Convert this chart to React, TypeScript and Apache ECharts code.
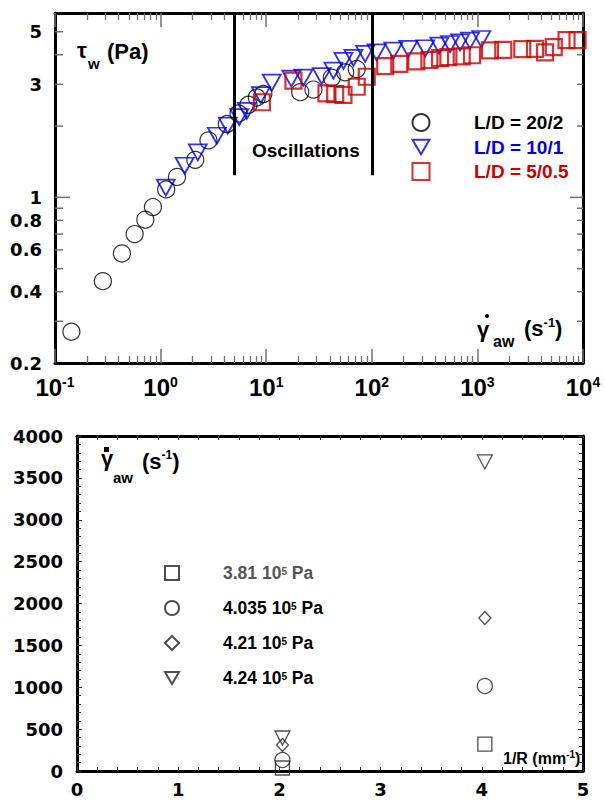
import React, { useEffect, useRef } from 'react';
import * as echarts from 'echarts';

// ---- Upper panel: wall shear stress vs apparent wall shear rate (log-log) ----
const seriesNamesTop = ['L/D = 20/2', 'L/D = 10/1', 'L/D = 5/0.5'];
const seriesColorsTop = ['#000000', '#0000e0', '#c80000'];

const ratio20x2: number[][] = [
  [0.143, 0.271], [0.284, 0.443], [0.43, 0.58], [0.568, 0.70], [0.717, 0.805], [0.846, 0.91],
  [1.13, 1.08], [1.43, 1.22], [2.13, 1.44], [2.84, 1.74], [4.24, 2.04], [5.47, 2.26],
  [6.8, 2.46], [8.15, 2.64], [9.4, 2.73], [21, 2.78], [28, 2.85], [41.8, 3.2], [56, 3.37], [72, 3.48],
];
const ratio10x1: number[][] = [
  [1.12, 1.10], [1.69, 1.36], [2.25, 1.55], [3.41, 1.82], [4.33, 2.01], [5.56, 2.18], [6.55, 2.32],
  [8.9, 2.70], [11.3, 3.05], [17.3, 3.17], [22.5, 3.20], [33.6, 3.25], [43.3, 3.43], [53.9, 3.77],
  [67, 3.88], [86.4, 4.03], [111, 4.09], [160, 4.16], [222, 4.23], [321, 4.26], [436, 4.37],
  [551, 4.44], [685, 4.51], [851, 4.59], [1089, 4.66],
];
const ratio5x05: number[][] = [
  [9.1, 2.52], [18.1, 3.11], [37.2, 2.75], [45, 2.73], [53.9, 2.71], [72, 2.93], [89.6, 3.23],
  [134, 3.58], [182, 3.66], [264, 3.75], [351, 3.80], [443, 3.87], [531, 3.91], [710, 3.94],
  [889, 3.98], [1315, 4.17], [1758, 4.19], [2660, 4.22], [3509, 4.23], [4365, 4.09], [5284, 4.31],
  [6982, 4.61], [8873, 4.61],
];

// shear-rate bounds of the oscillating regime and the stress where the markers stop
const oscillationBounds = [5, 100];
const oscillationMarkerBase = 1.24;

const shearRateRange = [0.1, 10000];
const stressRange = [0.2, 6];
const stressLabels = [0.2, 0.4, 0.6, 0.8, 1, 3, 5];
const stressTicks = [0.3, 0.4, 0.5, 0.6, 0.7, 0.8, 0.9, 1, 2, 3, 4, 5];

// ---- Lower panel: apparent shear rate vs 1/R for four pressures ----
const pressureMantissa = ['3.81', '4.035', '4.21', '4.24'];
const pressureNames = pressureMantissa.map((p) => `${p}e5 Pa`);
const inverseRadius = [2.03, 4.03];
const rate381 = [36, 322];
const rate4035 = [131, 1015];
const rate421 = [310, 1827];
const rate424 = [394, 3690];

const downTriangle = 'path://M0,0L20,0L10,17Z';
const boldSans = 'Liberation Sans';
const tickFont = 'DejaVu Sans';

function buildOption() {
  const grey = '#707070';
  const logAxisCommon = {
    type: 'log',
    logBase: 10,
    min: shearRateRange[0],
    max: shearRateRange[1],
    gridIndex: 0,
    axisLine: { onZero: false, lineStyle: { color: '#000', width: 3 } },
    axisTick: { inside: true, length: 14, lineStyle: { color: grey, width: 1.5 } },
    minorTick: { show: true, splitNumber: 9, length: 7, lineStyle: { color: grey, width: 1.3 } },
    splitLine: { show: false },
    minorSplitLine: { show: false },
  };

  const lowerX = {
    type: 'value',
    gridIndex: 1,
    min: 0,
    max: 5,
    interval: 1,
    axisLine: { onZero: false, lineStyle: { color: '#000', width: 3 } },
    axisTick: { inside: true, length: 4, lineStyle: { color: '#333', width: 1 } },
    minorTick: { show: true, splitNumber: 5, length: 4, lineStyle: { color: '#333', width: 1 } },
    splitLine: { show: false },
  };
  const lowerY = {
    type: 'value',
    gridIndex: 1,
    min: 0,
    max: 4000,
    interval: 500,
    axisLine: { onZero: false, lineStyle: { color: '#000', width: 3 } },
    axisTick: { inside: true, length: 5, lineStyle: { color: '#333', width: 1 } },
    minorTick: { show: true, splitNumber: 5, length: 4, lineStyle: { color: '#333', width: 1 } },
    splitLine: { show: false },
  };

  const markerStyle = (color: string, width: number) => ({
    color: 'rgba(0,0,0,0)',
    borderColor: color,
    borderWidth: width,
  });

  const lowerSeries = [rate381, rate4035, rate421, rate424].map((vals, i) => ({
    type: 'scatter',
    name: pressureNames[i],
    xAxisIndex: 2,
    yAxisIndex: 2,
    symbol: ['rect', 'circle', 'diamond', downTriangle][i],
    symbolSize: [[14, 14], [15, 15], [12, 13], [15, 14]][i],
    itemStyle: markerStyle('#222', 1.3),
    emphasis: { disabled: true },
    data: vals.map((v, j) => [inverseRadius[j], v]),
  }));

  const textStyle = (size: number, color = '#000', family = boldSans) => ({
    fontFamily: family,
    fontWeight: 'bold',
    fontSize: size,
    fill: color,
  });

  // "(s^-1)" unit written as one rich text so the exponent sits snugly
  const perSecond = (size: number, supSize: number) => ({
    text: '{p|(s}{e|-1}{p|)}',
    textVerticalAlign: 'middle',
    rich: {
      p: { fontFamily: boldSans, fontWeight: 'bold', fontSize: size, lineHeight: size + 2, fill: '#000' },
      e: { fontFamily: boldSans, fontWeight: 'bold', fontSize: supSize, lineHeight: supSize, fill: '#000', verticalAlign: 'top' },
    },
  });

  return {
    animation: false,
    backgroundColor: '#ffffff',
    grid: [
      { left: 55, top: 13, width: 528, height: 350 },
      { left: 77, top: 436, width: 506, height: 335 },
    ],
    xAxis: [
      {
        ...logAxisCommon,
        position: 'bottom',
        axisLabel: {
          margin: 12,
          formatter: (v: number) => `{b|10}{e|${Math.round(Math.log10(v))}}`,
          rich: {
            b: { fontFamily: boldSans, fontWeight: 'bold', fontSize: 24, lineHeight: 24, color: '#000' },
            e: { fontFamily: boldSans, fontWeight: 'bold', fontSize: 14, lineHeight: 14, color: '#000', verticalAlign: 'top' },
          },
        },
      },
      { ...logAxisCommon, position: 'top', axisLabel: { show: false } },
      {
        ...lowerX,
        position: 'bottom',
        axisLabel: { margin: 9, fontFamily: tickFont, fontWeight: 'bold', fontSize: 18, color: '#000' },
      },
      { ...lowerX, position: 'top', axisLabel: { show: false } },
    ],
    yAxis: [
      {
        type: 'log',
        logBase: 10,
        gridIndex: 0,
        min: stressRange[0],
        max: stressRange[1],
        position: 'left',
        axisLine: { onZero: false, lineStyle: { color: '#000', width: 3 } },
        axisTick: { show: false },
        splitLine: { show: false },
        axisLabel: {
          customValues: stressLabels,
          margin: 13,
          fontFamily: tickFont,
          fontWeight: 'bold',
          fontSize: 18,
          color: '#000',
          formatter: (v: number) => String(+Number(v).toPrecision(2)),
        },
      },
      {
        type: 'log',
        logBase: 10,
        gridIndex: 0,
        min: stressRange[0],
        max: stressRange[1],
        position: 'right',
        axisLine: { onZero: false, lineStyle: { color: '#000', width: 3 } },
        axisTick: { show: false },
        splitLine: { show: false },
        axisLabel: { show: false },
      },
      {
        ...lowerY,
        position: 'left',
        axisLabel: {
          margin: 14,
          fontFamily: tickFont,
          fontWeight: 'bold',
          fontSize: 18,
          color: '#000',
          formatter: (v: number) => String(v),
        },
      },
      { ...lowerY, position: 'right', axisLabel: { show: false } },
    ],
    legend: [
      {
        orient: 'vertical',
        left: 411.5,
        top: 113,
        padding: 0,
        itemWidth: 17,
        itemHeight: 17,
        itemGap: 5.5,
        selectedMode: false,
        data: seriesNamesTop.map((n, i) => ({ name: n, textStyle: { color: seriesColorsTop[i] } })),
        textStyle: {
          fontFamily: boldSans,
          fontWeight: 'bold',
          fontSize: 19,
          lineHeight: 17,
          padding: [0, 0, 0, 39.5],
        },
      },
      {
        orient: 'vertical',
        left: 164,
        top: 564,
        padding: 0,
        itemWidth: 14,
        itemHeight: 14,
        itemGap: 17,
        selectedMode: false,
        data: pressureNames,
        formatter: (name: string) => {
          const i = pressureNames.indexOf(name);
          const k = i === 0 ? 'g' : 'n';
          return `{${k}|${pressureMantissa[i]} 10}{${k}s|5}{${k}| Pa}`;
        },
        textStyle: {
          padding: [0, 0, 0, 39],
          rich: {
            n: { fontFamily: boldSans, fontWeight: 'bold', fontSize: 17.5, lineHeight: 14, color: '#000' },
            ns: { fontFamily: boldSans, fontWeight: 'bold', fontSize: 10, lineHeight: 10, color: '#000', verticalAlign: 'top' },
            g: { fontFamily: boldSans, fontWeight: 'bold', fontSize: 17.5, lineHeight: 14, color: '#555' },
            gs: { fontFamily: boldSans, fontWeight: 'bold', fontSize: 10, lineHeight: 10, color: '#555', verticalAlign: 'top' },
          },
        },
      },
    ],
    series: [
      {
        // inward ticks on the left and right stress axes
        type: 'custom',
        name: 'stress ticks',
        xAxisIndex: 0,
        yAxisIndex: 0,
        silent: true,
        z: 1,
        data: stressTicks.map((v) => [shearRateRange[0], v]),
        renderItem: (_params: any, api: any) => {
          const v = api.value(1);
          const l = api.coord([shearRateRange[0], v]);
          const r = api.coord([shearRateRange[1], v]);
          const major = Math.abs(v - 1) < 1e-9;
          const style = { stroke: grey, lineWidth: 1.5 };
          return {
            type: 'group',
            children: [
              { type: 'line', shape: { x1: l[0], y1: l[1], x2: l[0] + (major ? 15 : 8), y2: l[1] }, style },
              { type: 'line', shape: { x1: r[0], y1: r[1], x2: r[0] - (major ? 13 : 6), y2: r[1] }, style },
            ],
          };
        },
      },
      {
        type: 'scatter',
        name: seriesNamesTop[0],
        xAxisIndex: 0,
        yAxisIndex: 0,
        symbol: 'circle',
        symbolSize: 17,
        itemStyle: markerStyle(seriesColorsTop[0], 1.2),
        emphasis: { disabled: true },
        data: ratio20x2,
        z: 2,
        markLine: {
          silent: true,
          symbol: ['none', 'none'],
          label: { show: false },
          lineStyle: { color: '#000', width: 3, type: 'solid' },
          data: oscillationBounds.map((x) => [
            { coord: [x, oscillationMarkerBase] },
            { coord: [x, stressRange[1]] },
          ]),
        },
      },
      {
        type: 'scatter',
        name: seriesNamesTop[1],
        xAxisIndex: 0,
        yAxisIndex: 0,
        symbol: downTriangle,
        symbolSize: [18, 16],
        itemStyle: markerStyle(seriesColorsTop[1], 1.8),
        emphasis: { disabled: true },
        data: ratio10x1,
        z: 3,
      },
      {
        type: 'scatter',
        name: seriesNamesTop[2],
        xAxisIndex: 0,
        yAxisIndex: 0,
        symbol: 'rect',
        symbolSize: 16,
        itemStyle: markerStyle(seriesColorsTop[2], 2.2),
        emphasis: { disabled: true },
        data: ratio5x05,
        z: 4,
      },
      ...lowerSeries,
    ],
    graphic: [
      { type: 'text', x: 252, y: 150, style: { text: 'Oscillations', ...textStyle(19), textVerticalAlign: 'middle' } },
      // tau_w (Pa)
      { type: 'text', x: 77, y: 50, style: { text: 'τ', ...textStyle(22), textVerticalAlign: 'middle' } },
      { type: 'text', x: 88, y: 63, style: { text: 'w', ...textStyle(15), textVerticalAlign: 'middle' } },
      { type: 'text', x: 107, y: 51, style: { text: '(Pa)', ...textStyle(22), textVerticalAlign: 'middle' } },
      // gamma-dot_aw (s^-1), upper panel
      { type: 'circle', shape: { cx: 487, cy: 316, r: 2 }, style: { fill: '#000' } },
      { type: 'text', x: 477, y: 329, style: { text: 'γ', ...textStyle(22), textVerticalAlign: 'middle' } },
      { type: 'text', x: 493, y: 341, style: { text: 'aw', ...textStyle(16), textVerticalAlign: 'middle' } },
      { type: 'text', x: 524, y: 328, style: perSecond(22, 13) },
      // gamma-dot_aw (s^-1), lower panel
      { type: 'rect', shape: { x: 104, y: 447, width: 5, height: 5 }, style: { fill: '#000' } },
      { type: 'text', x: 101, y: 458, style: { text: 'γ', ...textStyle(22), textVerticalAlign: 'middle' } },
      { type: 'text', x: 113, y: 477, style: { text: 'aw', ...textStyle(15), textVerticalAlign: 'middle' } },
      { type: 'text', x: 142, y: 461, style: perSecond(22, 12) },
      // 1/R (mm^-1)
      {
        type: 'text',
        x: 503,
        y: 758,
        style: {
          text: '{a|1/R (mm}{b|-1}{a|)}',
          textVerticalAlign: 'middle',
          rich: {
            a: { fontFamily: boldSans, fontWeight: 'bold', fontSize: 16, lineHeight: 18, fill: '#000' },
            b: { fontFamily: boldSans, fontWeight: 'bold', fontSize: 10, lineHeight: 10, fill: '#000', verticalAlign: 'top' },
          },
        },
      },
    ],
  };
}

export default function App() {
  const ref = useRef<HTMLDivElement>(null);
  useEffect(() => {
    if (!ref.current) return;
    const chart = echarts.init(ref.current, null, { renderer: 'svg' });
    chart.setOption(buildOption() as any);
    return () => chart.dispose();
  }, []);
  return (
    <div
      ref={ref}
      style={{ position: 'fixed', left: 0, top: 0, width: 605, height: 800, background: '#fff' }}
    />
  );
}
